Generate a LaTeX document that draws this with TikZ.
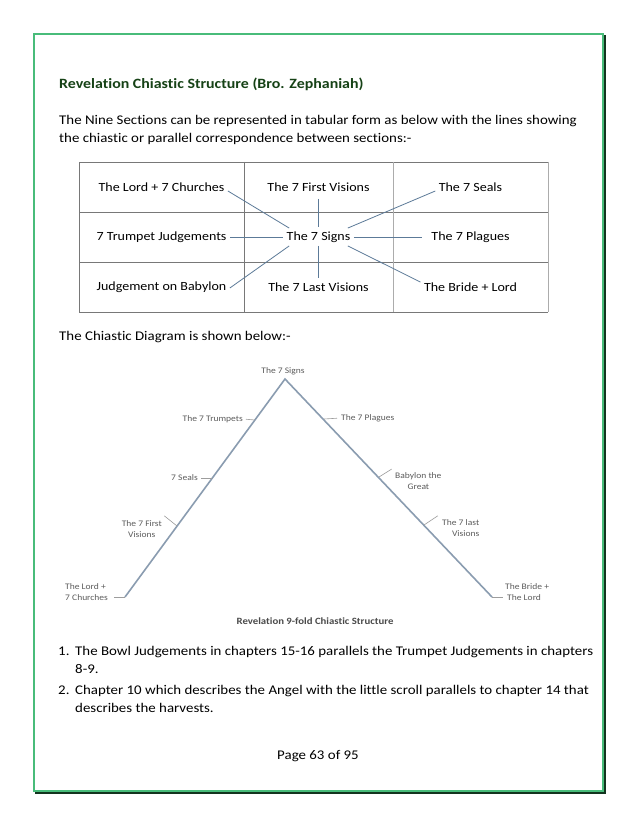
\documentclass[tikz,border=0pt]{standalone}
\usepackage{fontspec}
\setmainfont{Carlito}[FakeStretch=1.12, Ligatures=NoCommon]
\usetikzlibrary{positioning}

\definecolor{framegreen}{RGB}{72,188,122}
\definecolor{shadowgreen}{RGB}{18,52,30}
\definecolor{titlegreen}{RGB}{22,66,22}
\definecolor{linkblue}{RGB}{92,122,152}
\definecolor{chiblue}{RGB}{138,156,176}
\definecolor{lblgray}{RGB}{92,92,92}
\definecolor{gridgray}{RGB}{120,120,120}
\definecolor{gridlight}{RGB}{172,172,172}

\tikzset{
  body/.style={font=\fontsize{13.3}{18}\selectfont, inner sep=0pt},
  cell/.style={font=\fontsize{12.5}{14}\selectfont},
  link/.style={linkblue, line width=0.8pt},
  lbl/.style={font=\fontsize{8.5}{11.5}\selectfont, text=lblgray, inner sep=0pt},
  chi/.style={chiblue, line width=1.6pt},
  tick/.style={lblgray!60, line width=0.6pt},
}

\begin{document}
\begin{tikzpicture}[x=1pt, y=-1pt, node distance=50pt]
  \useasboundingbox (0,0) rectangle (638,826);

  % page frame
  \draw[shadowgreen, line width=1.6pt] (35.5,35.5) rectangle (605,793);
  \draw[framegreen, line width=1.4pt, fill=white] (34,34) rectangle (603,791);

  % heading and text
  \node[anchor=west, inner sep=0pt, text=titlegreen, font=\bfseries\fontsize{14.2}{17}\selectfont] (title) at (59,84)
    {Revelation Chiastic Structure (Bro. Zephaniah)};
  \node[body, anchor=north west, align=left] (intro) at (59,115)
    {The Nine Sections can be represented in tabular form as below with the lines showing\\
     the chiastic or parallel correspondence between sections:-};

  % the table
  \draw[gridgray] (244,162) -- (79,162) -- (79,312) -- (244,312);
  \draw[gridgray] (79,212) -- (548,212);
  \draw[gridgray] (79,262) -- (548,262);
  \draw[gridgray] (244,162) -- (244,312);
  \draw[gridgray] (244,162) -- (548,162);
  \draw[gridgray] (244,312) -- (548,312);
  \draw[gridlight, line width=0.9pt] (393,162) -- (393,312);
  \draw[gridlight, line width=0.9pt] (548,162) -- (548,312);

  \node[cell] (lord) at (161.5,187) {The Lord + 7 Churches};
  \node[cell] (first) [right of=lord, node distance=157pt] {The 7 First Visions};
  \node[cell] (seals) [right of=first, node distance=152pt] {The 7 Seals};
  \node[cell] (trumpet) [below of=lord] {7 Trumpet Judgements};
  \node[cell] (signs) [below of=first] {The 7 Signs};
  \node[cell] (plagues) [below of=seals] {The 7 Plagues};
  \node[cell] (babylon) [below of=trumpet] {Judgement on Babylon};
  \node[cell] (last) [below of=signs] {The 7 Last Visions};
  \node[cell] (bride) [below of=plagues] {The Bride + Lord};

  \draw[link] ([yshift=-4pt]lord.east) -- ([xshift=6pt]signs.north west);
  \draw[link] (trumpet.east) -- (signs.west);
  \draw[link] ([yshift=-1pt]babylon.east) -- ([xshift=6pt]signs.south west);
  \draw[link, shorten <=4pt, shorten >=1pt] (first.south) -- (signs.north);
  \draw[link, shorten >=1pt] (signs.south) -- (last.north);
  \draw[link] ([yshift=-4pt]seals.west) -- ([xshift=-6pt]signs.north east);
  \draw[link, shorten >=6pt] (signs.east) -- (plagues.west);
  \draw[link] ([xshift=-6pt]signs.south east) -- ([yshift=-3pt]bride.north west);

  \node[body, anchor=west] (below) at (59,337) {The Chiastic Diagram is shown below:-};

  % chiastic diagram
  \coordinate (apex) at (285,379);
  \coordinate (lbase) at (125,597);
  \coordinate (rbase) at (492,597);
  \coordinate (lordtick) at (114,597);
  \coordinate (bridetick) at (503,597);
  \coordinate (ptrump) at (255,420);
  \coordinate (pseals) at (212,478);
  \coordinate (pfirst) at (177,526);
  \coordinate (pplag) at (324,419);
  \coordinate (pbaby) at (379,477);
  \coordinate (plast) at (424,525);

  \draw[chi, line join=miter] (lbase) -- (apex) -- (rbase);

  \node[lbl] (csigns) at (283,371) {The 7 Signs};
  \node[lbl, anchor=east] (ctrump) at (243,419) {The 7 Trumpets};
  \node[lbl, anchor=east] (cseals) at (198,478) {7 Seals};
  \node[lbl, anchor=north east, align=center] (cfirst) at (162,520) {The 7 First\\Visions};
  \node[lbl, anchor=south west, align=left] (clord) at (65,601) {The Lord +\\7 Churches};
  \node[lbl, anchor=west] (cplag) at (341,418) {The 7 Plagues};
  \node[lbl, anchor=north west, align=center] (cbaby) at (395,472) {Babylon the\\Great};
  \node[lbl, anchor=north west, align=right] (clast) at (442,519) {The 7 last\\Visions};
  \node[lbl, anchor=south west, align=left] (cbride) at (505,601) {The Bride +\\\hspace{2pt}The Lord};

  \draw[tick, shorten <=3pt] (ctrump.east) -- (ptrump);
  \draw[tick, shorten <=3pt] (cseals.east) -- (pseals);
  \draw[tick, shorten <=3pt] ([yshift=6pt]cfirst.north east) -- (pfirst);
  \draw[tick] (lordtick) -- (lbase);
  \draw[tick, shorten >=4pt] (pplag) -- (cplag.west);
  \draw[tick, shorten >=4pt] (pbaby) -- ([yshift=5pt]cbaby.north west);
  \draw[tick, shorten >=5pt] (plast) -- ([yshift=6pt]clast.north west);
  \draw[tick] (rbase) -- (bridetick);

  \node[text=lblgray!80!black, font=\bfseries\fontsize{9.6}{11}\selectfont] (caption) at (315,621)
    {Revelation 9-fold Chiastic Structure};

  % numbered notes
  \node[body, anchor=north west] (n1) at (58,646) {1.\vphantom{hl}};
  \node[body, anchor=north west, align=left] (t1) at (75,646)
    {The Bowl Judgements in chapters 15-16 parallels the Trumpet Judgements in chapters\\8-9.};
  \node[body, anchor=north west] (n2) at (58,685) {2.\vphantom{hl}};
  \node[body, anchor=north west, align=left] (t2) at (75,685)
    {Chapter 10 which describes the Angel with the little scroll parallels to chapter 14 that\\describes the harvests.};

  \node[body] (page) at (318,756) {Page 63 of 95};
\end{tikzpicture}
\end{document}
